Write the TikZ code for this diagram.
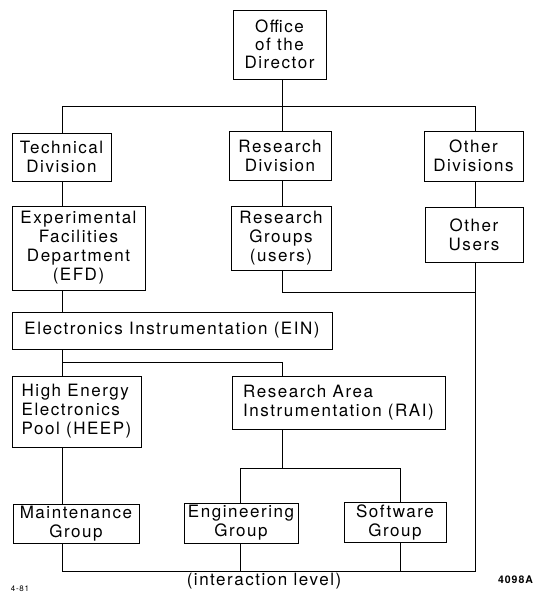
\documentclass[tikz,border=0pt]{standalone}
\usepackage{fontspec}
\setmainfont{TeX Gyre Heros}[LetterSpace=9]
\begin{document}
\begin{tikzpicture}[x=1pt,y=-1pt,
  box/.style={draw, line width=0.9pt, inner sep=0pt, align=center,
    font=\fontsize{17}{19}\selectfont},
  lbox/.style={box, align=left},
  ln/.style={line width=0.9pt}]
\useasboundingbox (0,0) rectangle (536,593);

\node[box, minimum width=93pt, minimum height=69pt, font=\fontsize{17}{18.2}\selectfont] (office) at (279.5,44.5) {Office\\of the\\Director};
\node[box, minimum width=99pt, minimum height=48pt] (tech) at (61.5,157) {Technical\\Division};
\node[box, minimum width=102pt, minimum height=49pt] (resdiv) at (280,155.5) {Research\\Division};
\node[box, minimum width=99pt, minimum height=50pt] (othdiv) at (473.5,156) {Other\\Divisions};
\node[box, minimum width=133pt, minimum height=84pt] (efd) at (78.5,248) {Experimental\\Facilities\\Department\\(EFD)};
\node[box, minimum width=100pt, minimum height=64pt] (resgrp) at (281,238) {Research\\Groups\\(users)};
\node[box, minimum width=98pt, minimum height=55pt] (othusr) at (474,234.5) {Other\\Users};
\node[box, minimum width=320pt, minimum height=37pt] (ein) at (172,330.5) {Electronics Instrumentation (EIN)};
\node[lbox, minimum width=129pt, minimum height=71pt] (heep) at (76.5,411.5) {High Energy\\Electronics\\Pool (HEEP)};
\node[lbox, minimum width=213pt, minimum height=53pt] (rai) at (338.5,402.5) {Research Area\\Instrumentation (RAI)};
\node[box, minimum width=126pt, minimum height=39pt] (maint) at (76,523.5) {Maintenance\\Group};
\node[box, minimum width=114pt, minimum height=40pt] (eng) at (241,523) {Engineering\\Group};
\node[box, minimum width=102pt, minimum height=40pt] (soft) at (395,522) {Software\\Group};

% column and bus helpers
\coordinate (c1) at (62,0);
\coordinate (c2) at (282,0);
\coordinate (c3) at (475,0);
\coordinate (cE) at (240,0);
\coordinate (cS) at (400,0);
\coordinate (bus1) at (0,106);
\coordinate (bus2) at (0,292);
\coordinate (bus3) at (0,362);
\coordinate (bus4) at (0,468);
\coordinate (bus5) at (0,571);

\draw[ln] (c2 |- office.south) -- (c2 |- bus1);
\draw[ln] (c1 |- tech.north) -- (c1 |- bus1) -- (c3 |- bus1) -- (c3 |- othdiv.north);
\draw[ln] (c2 |- bus1) -- (c2 |- resdiv.north);
\draw[ln] (c1 |- tech.south) -- (c1 |- efd.north);
\draw[ln] (c2 |- resdiv.south) -- (c2 |- resgrp.north);
\draw[ln] (c3 |- othdiv.south) -- (c3 |- othusr.north);
\draw[ln] (c1 |- efd.south) -- (c1 |- ein.north);
\draw[ln] (c2 |- resgrp.south) -- (c2 |- bus2) -- (c3 |- bus2);
\draw[ln] (c3 |- othusr.south) -- (c3 |- bus5) -- (c1 |- bus5) -- (c1 |- maint.south);
\draw[ln] (c1 |- ein.south) -- (c1 |- heep.north);
\draw[ln] (c1 |- bus3) -- (c2 |- bus3) -- (c2 |- rai.north);
\draw[ln] (c1 |- heep.south) -- (c1 |- maint.north);
\draw[ln] (c2 |- rai.south) -- (c2 |- bus4);
\draw[ln] (cE |- eng.north) -- (cE |- bus4) -- (cS |- bus4) -- (cS |- soft.north);
\draw[ln] (cE |- eng.south) -- (cE |- bus5);
\draw[ln] (cS |- soft.south) -- (cS |- bus5);

\node[anchor=base, inner sep=0pt, font=\fontsize{17}{19}\selectfont] (il) at (264,585) {(interaction level)};
\node[anchor=base, inner sep=0pt, font=\fontsize{8}{9}\selectfont] (d1) at (20,591) {4-81};
\node[anchor=base, inner sep=0pt, font=\bfseries\fontsize{10.5}{12}\selectfont] (d2) at (515.5,583) {4098A};
\end{tikzpicture}
\end{document}
